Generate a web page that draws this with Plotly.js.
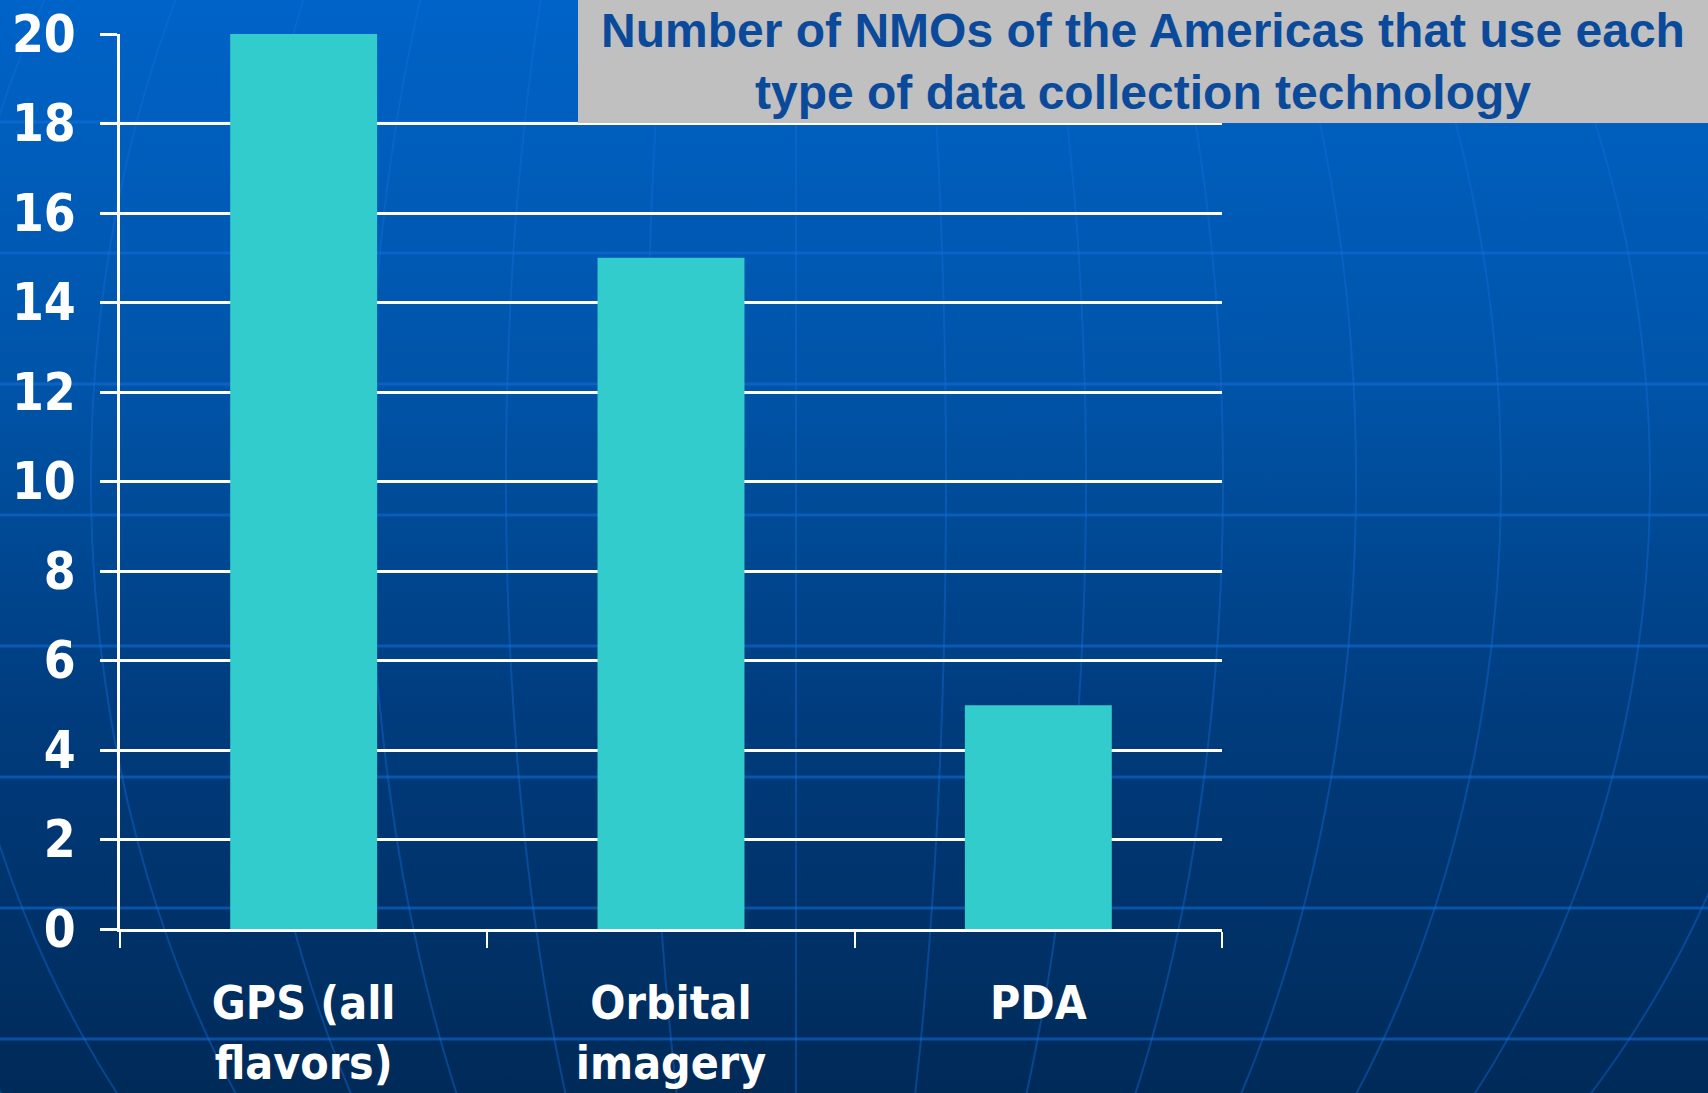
<!DOCTYPE html>
<html>
<head>
<meta charset="utf-8">
<script src="https://cdn.plot.ly/plotly-3.0.1.min.js"></script>
<style>
  html, body { margin: 0; padding: 0; width: 1708px; height: 1093px; overflow: hidden; }
  body { background: linear-gradient(to bottom, #0063c8 0%, #0054a8 35%, #003c7e 65%, #002a58 100%); position: relative; }
  #bg { position: absolute; left: 0; top: 0; width: 1708px; height: 1093px; }
  #chart { position: absolute; left: 0; top: 0; width: 1708px; height: 1093px; }
</style>
</head>
<body>
<svg id="bg" xmlns="http://www.w3.org/2000/svg" width="1708" height="1093"></svg>
<div id="chart"></div>
<script>
// ---- data ----
const categories = ["GPS (all<br>flavors)", "Orbital<br>imagery", "PDA"];
const values = [20, 15, 5];
const yTicks = [0, 2, 4, 6, 8, 10, 12, 14, 16, 18, 20];
const titleText = "Number of NMOs of the Americas that use each<br>type of data collection technology";

// ---- decorative globe background ----
(function () {
  const svg = document.getElementById('bg');
  const ns = 'http://www.w3.org/2000/svg';
  const col = 'rgba(20,110,220,0.55)';
  for (let y = 122; y < 1093; y += 131) {
    const l = document.createElementNS(ns, 'line');
    l.setAttribute('x1', 0); l.setAttribute('x2', 1708);
    l.setAttribute('y1', y); l.setAttribute('y2', y);
    l.setAttribute('stroke', col); l.setAttribute('stroke-width', 3);
    svg.appendChild(l);
  }
  const cx = 796, cy = 480, b = 1011;
  const as = [0, 150, 290, 427, 560, 705, 854, 1000];
  as.forEach(a => {
    [1, -1].forEach(s => {
      if (a === 0 && s === -1) return;
      let d = '';
      for (let y = -20; y <= 1110; y += 10) {
        const t = (y - cy) / b;
        const x = cx + s * a * Math.sqrt(Math.max(0, 1 - t * t));
        d += (d ? 'L' : 'M') + x.toFixed(1) + ',' + y;
      }
      const p = document.createElementNS(ns, 'path');
      p.setAttribute('d', d);
      p.setAttribute('fill', 'none');
      p.setAttribute('stroke', 'rgba(20,110,220,0.4)');
      p.setAttribute('stroke-width', 2);
      svg.appendChild(p);
    });
  });
})();

// ---- chart ----
const W = 1708, H = 1093;
const mL = 120, mR = 486, mT = 34, mB = 164;
const pw = W - mL - mR, ph = H - mT - mB;

const trace = {
  type: 'bar',
  x: categories,
  y: values,
  marker: { color: '#33CCCC', line: { width: 0 } },
  hoverinfo: 'none'
};

const layout = {
  width: W, height: H,
  margin: { l: mL, r: mR, t: mT, b: mB, pad: 0 },
  paper_bgcolor: 'rgba(0,0,0,0)',
  plot_bgcolor: 'rgba(0,0,0,0)',
  bargap: 0.6,
  showlegend: false,
  xaxis: {
    type: 'category',
    showgrid: false,
    showline: true, linecolor: '#ffffff', linewidth: 3,
    ticks: 'outside', tickson: 'boundaries', ticklen: 16, tickwidth: 2, tickcolor: '#ffffff',
    tickfont: { family: 'DejaVu Sans Condensed, DejaVu Sans', size: 46, color: '#ffffff', weight: 'bold' },
    ticklabelstandoff: 32,
    zeroline: false,
    fixedrange: true
  },
  yaxis: {
    range: [0, 20],
    tickmode: 'array', tickvals: yTicks, ticktext: yTicks.map(String),
    showgrid: true, gridcolor: '#ffffff', gridwidth: 3,
    showline: true, linecolor: '#ffffff', linewidth: 3,
    ticks: 'outside', ticklen: 17, tickwidth: 3, tickcolor: '#ffffff',
    tickfont: { family: 'DejaVu Sans Condensed, DejaVu Sans', size: 51, color: '#ffffff', weight: 'bold' },
    ticklabelstandoff: 14,
    zeroline: false,
    fixedrange: true
  },
  annotations: [{
    xref: 'paper', yref: 'paper',
    x: (578 - mL) / pw, y: 1 + mT / ph,
    xanchor: 'left', yanchor: 'top',
    width: 1130, height: 123,
    bgcolor: '#C0C0C0', borderpad: 0, borderwidth: 0,
    showarrow: false,
    align: 'center', valign: 'middle',
    text: '<b>' + titleText + '</b>',
    font: { family: 'Liberation Sans, Arial', size: 48, color: '#0B4A9A' }
  }]
};

Plotly.newPlot('chart', [trace], layout, { displayModeBar: false, staticPlot: true });
</script>
</body>
</html>
